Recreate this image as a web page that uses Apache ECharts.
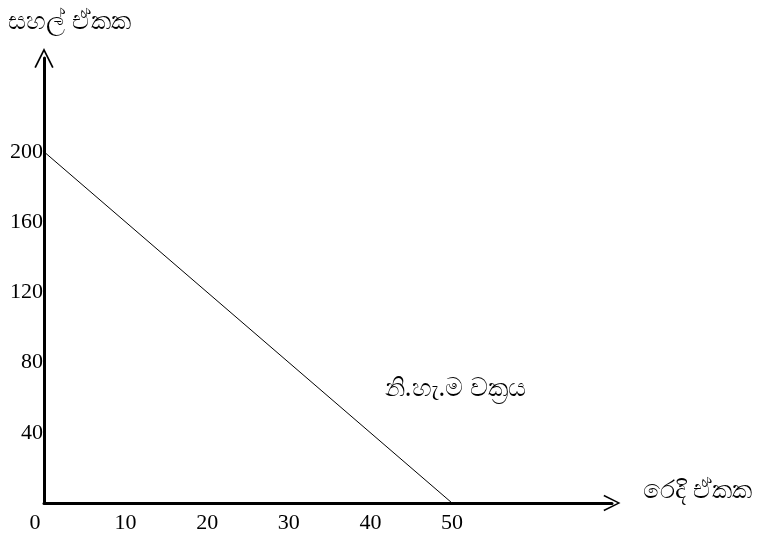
<!DOCTYPE html>
<html>
<head>
<meta charset="utf-8">
<script src="https://cdn.jsdelivr.net/npm/echarts@6/dist/echarts.min.js"></script>
<style>html,body{margin:0;padding:0;background:#fff}#c{width:758px;height:534px}</style>
</head>
<body>
<div id="c"></div>
<script>
var xName = 'රෙදි ඒකක';
var yName = 'සහල් ඒකක';
var curveLabel = 'නි.හැ.ම වක්‍රය';
var clothUnits = [0, 50];
var riceUnits = [200, 0];
var xTicks = [0, 10, 20, 30, 40, 50];
var yTicks = [40, 80, 120, 160, 200];
var labelPos = [50.4, 65];

var chart = echarts.init(document.getElementById('c'));
var chevron = 'path://M0,20 L10,0 L20,20 L18.4,20.8 L10,3.8 L1.6,20.8 Z';
var numFont = 'Liberation Serif';
chart.setOption({
  animation: false,
  grid: {left: 44, right: 146, top: 58, bottom: 30},
  xAxis: {
    type: 'value', min: 0, max: 69.6, interval: 10,
    name: xName, nameLocation: 'end', nameGap: 31,
    nameTextStyle: {fontSize: 25, color: '#000', align: 'left', verticalAlign: 'bottom', padding: [0, 0, 0, 0], fontFamily: 'Noto Sans'},
    axisLine: {lineStyle: {color: '#000', width: 3}, symbol: ['none', chevron], symbolSize: [24, 17], symbolOffset: [0, 0]},
    axisTick: {show: false},
    splitLine: {show: false},
    axisLabel: {
      margin: 9, color: '#000', fontSize: 22, fontFamily: numFont,
      formatter: function (v) { if (xTicks.indexOf(v) < 0) return ''; return v === 0 ? '{z|0}' : String(v); },
      rich: {z: {fontSize: 22, fontFamily: numFont, color: '#000', padding: [0, 18, 0, 0]}}
    }
  },
  yAxis: {
    type: 'value', min: 0, max: 253.4, interval: 40,
    name: yName, nameLocation: 'end', nameGap: 24,
    nameTextStyle: {fontSize: 25, color: '#000', align: 'left', padding: [0, 0, 0, -36], fontFamily: 'Noto Sans'},
    axisLine: {lineStyle: {color: '#000', width: 3}, symbol: ['none', chevron], symbolSize: [20, 20], symbolOffset: [0, 0]},
    axisTick: {show: false},
    splitLine: {show: false},
    axisLabel: {
      margin: 1, color: '#000', fontSize: 22, fontFamily: numFont,
      formatter: function (v) { return yTicks.indexOf(v) < 0 ? '' : String(v); }
    }
  },
  series: [{
    type: 'line',
    data: clothUnits.map(function (x, i) { return [x, riceUnits[i]]; }),
    symbol: 'none',
    lineStyle: {color: '#000', width: 1},
    markPoint: {
      symbol: 'circle', symbolSize: 0,
      label: {show: true, formatter: curveLabel, fontSize: 25, color: '#000', fontFamily: 'Noto Sans'},
      data: [{coord: labelPos}]
    }
  }]
});
</script>
</body>
</html>
